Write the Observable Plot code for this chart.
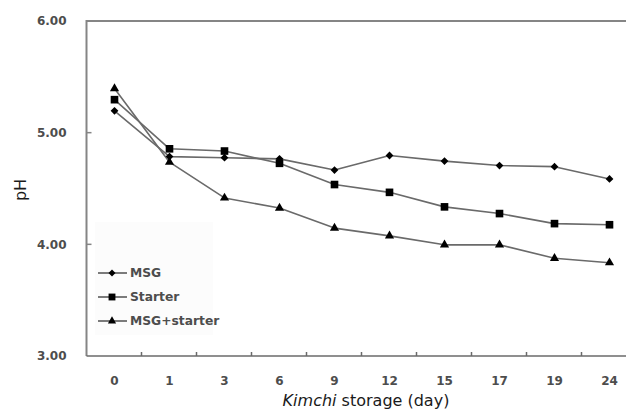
<!DOCTYPE html>
<html><head><meta charset="utf-8">
<script src="https://cdn.jsdelivr.net/npm/d3@7"></script>
<script src="https://cdn.jsdelivr.net/npm/@observablehq/plot@0.6"></script>
<style>
body{margin:0;background:#fff}
#chart{width:626px;height:412px}
</style>
</head><body><div id="chart"></div>
<script>
const days = ["0","1","3","6","9","12","15","17","19","24"];
const msg = [5.20,4.79,4.78,4.77,4.67,4.80,4.75,4.71,4.70,4.59];
const starter = [5.30,4.86,4.84,4.73,4.54,4.47,4.34,4.28,4.19,4.18];
const msgStarter = [5.40,4.74,4.42,4.33,4.15,4.08,4.00,4.00,3.88,3.84];
const seriesNames = ["MSG","Starter","MSG+starter"];
const yTicks = [3,4,5,6];
const xTitleItalic = "Kimchi";
const xTitleRest = " storage (day)";
const yTitle = "pH";

const seriesVals = [msg, starter, msgStarter];
const rows = [];
seriesVals.forEach((vals, s) => vals.forEach((v, i) => rows.push({day: days[i], pH: v, series: seriesNames[s]})));

const symSpec = [
  {plot: "diamond2", d3sym: d3.symbolDiamond2, r: 3.5},
  {plot: "square", d3sym: d3.symbolSquare, r: 4.3},
  {plot: "triangle", d3sym: d3.symbolTriangle, r: 3.4}
];
const axisColor = "#858585";
const lineColor = "#6a6a6a";
const textColor = "#4d4d4d";
const FONT = "DejaVu Sans";

function frameMark(index, scales, values, dims) {
  const {x, y} = scales;
  const step = x(days[1]) - x(days[0]);
  const left = x(days[0]) - step / 2;
  const right = dims.width;
  const y0 = y(3), y1 = y(6);
  const g = d3.create("svg:g").attr("fill", "none");
  g.append("line").attr("x1", left).attr("x2", right).attr("y1", y1).attr("y2", y1)
    .attr("stroke", axisColor).attr("stroke-width", 2);
  g.append("line").attr("x1", left).attr("x2", left).attr("y1", y1 - 1).attr("y2", y0)
    .attr("stroke", axisColor).attr("stroke-width", 2);
  g.append("line").attr("x1", left).attr("x2", right).attr("y1", y0).attr("y2", y0)
    .attr("stroke", "#6a6a6a").attr("stroke-width", 1.6);
  for (const t of yTicks.slice(1, -1)) {
    g.append("line").attr("x1", left).attr("x2", left + 5).attr("y1", y(t)).attr("y2", y(t))
      .attr("stroke", axisColor).attr("stroke-width", 1.5);
  }
  for (let i = 1; i < days.length; ++i) {
    const xt = (x(days[i - 1]) + x(days[i])) / 2;
    g.append("line").attr("x1", xt).attr("x2", xt).attr("y1", y0).attr("y2", y0 - 4)
      .attr("stroke", "#6a6a6a").attr("stroke-width", 1.5);
  }
  return g.node();
}

function legendMark(index, scales, values, dims) {
  const g = d3.create("svg:g");
  const bx = 95, by = 222;
  g.append("rect").attr("x", bx).attr("y", by).attr("width", 118).attr("height", 113)
    .attr("fill", "#fcfcfc");
  seriesNames.forEach((name, i) => {
    const cy = 273 + i * 24;
    g.append("line").attr("x1", 98).attr("x2", 127).attr("y1", cy).attr("y2", cy)
      .attr("stroke", "#505050").attr("stroke-width", 1.5);
    const r = symSpec[i].r * 0.9;
    g.append("path").attr("transform", `translate(112,${cy})`)
      .attr("d", d3.symbol(symSpec[i].d3sym, Math.PI * r * r)())
      .attr("fill", "black");
    g.append("text").attr("x", 130).attr("y", cy).attr("dy", "0.36em")
      .attr("text-anchor", "start")
      .attr("font-family", FONT).attr("font-weight", "bold").attr("font-size", 12.3)
      .attr("fill", textColor).text(name);
  });
  return g.node();
}

const plot = Plot.plot({
  width: 626, height: 412,
  marginLeft: 83, marginRight: 0, marginTop: 21, marginBottom: 56,
  style: {fontFamily: FONT, background: "white", overflow: "visible"},
  x: {type: "point", domain: days, range: [111.7, 611.2], padding: 0, label: null},
  y: {domain: [3, 6], label: null},
  marks: [
    frameMark,
    Plot.axisY(yTicks, {tickSize: 0, tickPadding: 17, tickFormat: d => d.toFixed(2),
      fontWeight: "bold", fontSize: 12, fill: textColor, label: null}),
    Plot.axisX({tickSize: 0, tickPadding: 20, fontWeight: "bold", fontSize: 12, fill: textColor, label: null}),
    Plot.line(rows, {x: "day", y: "pH", z: "series", stroke: lineColor, strokeWidth: 1.6}),
    ...seriesNames.map((name, i) =>
      Plot.dot(rows.filter(d => d.series === name), {x: "day", y: "pH", symbol: () => symSpec[i].plot,
        r: symSpec[i].r, fill: "black", stroke: "none"})),
    legendMark
  ]
});

const svg = d3.select(plot);
const title = svg.append("text").attr("x", 366).attr("y", 406).attr("text-anchor", "middle")
  .attr("font-family", FONT).attr("font-size", 16).attr("fill", "#1a1a1a");
title.append("tspan").attr("font-style", "italic").text(xTitleItalic);
title.append("tspan").text(xTitleRest);
svg.append("text").attr("transform", "translate(26,190) rotate(-90)").attr("text-anchor", "middle")
  .attr("font-family", FONT).attr("font-size", 16).attr("fill", "#1a1a1a").text(yTitle);

document.getElementById("chart").appendChild(plot);
</script>
</body></html>
